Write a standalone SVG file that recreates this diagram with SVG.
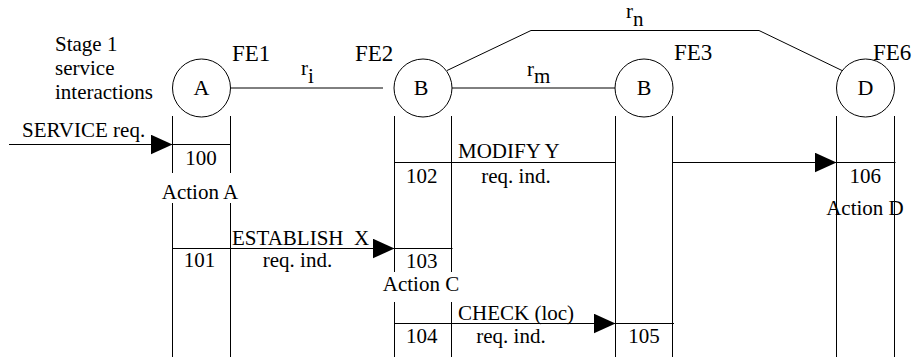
<svg xmlns="http://www.w3.org/2000/svg" width="918" height="360" viewBox="0 0 918 360">
<style>
  text { font-family: "Liberation Serif", "Times New Roman", serif; font-size: 21px; fill: #000; }
  .fe { font-size: 23px; }
  .nd { font-size: 22px; text-anchor: middle; }
  .c { text-anchor: middle; }
  line, polyline, circle { stroke: #000; stroke-width: 1; fill: none; }
</style>
<defs>
  <marker id="arr" markerUnits="userSpaceOnUse" markerWidth="22" markerHeight="20" refX="22" refY="10" orient="auto">
    <path d="M0,0 L22,10 L0,20 z" fill="#000"/>
  </marker>
</defs>
<rect width="918" height="360" fill="#fff"/>

<text x="55" y="51">Stage 1</text>
<text x="55" y="75">service</text>
<text x="55" y="99">interactions</text>

<g id="FE1">
  <circle cx="201.5" cy="88" r="29"/>
  <text class="nd" x="201.5" y="95">A</text>
  <text class="fe" x="232" y="61">FE1</text>
  <line x1="172.5" y1="116" x2="172.5" y2="173"/>
  <line x1="172.5" y1="203" x2="172.5" y2="357"/>
  <line x1="230.5" y1="116" x2="230.5" y2="173"/>
  <line x1="230.5" y1="203" x2="230.5" y2="357"/>
  <text class="c" x="201" y="165">100</text>
  <text class="c" x="200" y="199">Action A</text>
  <text class="c" x="199.5" y="267">101</text>
</g>

<g id="FE2">
  <circle cx="423" cy="88" r="29"/>
  <text class="nd" x="421" y="95">B</text>
  <text class="fe" x="355" y="61">FE2</text>
  <line x1="394.5" y1="116" x2="394.5" y2="272"/>
  <line x1="394.5" y1="302" x2="394.5" y2="357"/>
  <line x1="451.5" y1="116" x2="451.5" y2="272"/>
  <line x1="451.5" y1="302" x2="451.5" y2="357"/>
  <text class="c" x="421.7" y="183">102</text>
  <text class="c" x="421.7" y="268">103</text>
  <text class="c" x="421" y="291">Action C</text>
  <text class="c" x="421.7" y="343">104</text>
</g>

<g id="FE3">
  <circle cx="644" cy="88" r="29"/>
  <text class="nd" x="644" y="95">B</text>
  <text class="fe" x="674" y="60">FE3</text>
  <line x1="615.5" y1="116" x2="615.5" y2="357"/>
  <line x1="672.5" y1="116" x2="672.5" y2="357"/>
  <text class="c" x="644" y="343">105</text>
</g>

<g id="FE6">
  <circle cx="865.5" cy="88" r="29"/>
  <text class="nd" x="865.5" y="95">D</text>
  <text class="fe" x="873" y="60">FE6</text>
  <line x1="836.5" y1="116" x2="836.5" y2="357"/>
  <line x1="894.5" y1="116" x2="894.5" y2="357"/>
  <text class="c" x="865.3" y="183">106</text>
  <text class="c" x="865" y="215">Action D</text>
</g>

<g id="connectors">
  <line x1="231" y1="88" x2="383" y2="88"/>
  <line x1="452" y1="88" x2="615" y2="88"/>
  <polyline points="447,70.5 531,30.5 759,30.5 842,70.5"/>

  <line x1="9" y1="144.5" x2="172.5" y2="144.5" marker-end="url(#arr)"/>
  <line x1="172.5" y1="144.5" x2="230.5" y2="144.5"/>

  <line x1="172.5" y1="248.5" x2="394.5" y2="248.5" marker-end="url(#arr)"/>
  <line x1="394.5" y1="248.5" x2="452.5" y2="248.5"/>

  <line x1="394.5" y1="162.5" x2="615.5" y2="162.5"/>
  <line x1="672.5" y1="162.5" x2="836.5" y2="162.5" marker-end="url(#arr)"/>
  <line x1="836.5" y1="162.5" x2="895.5" y2="162.5"/>

  <line x1="394" y1="323.5" x2="615.5" y2="323.5" marker-end="url(#arr)"/>
  <line x1="615.5" y1="323.5" x2="674" y2="323.5"/>
</g>

<g id="labels">
  <text x="301" y="75">r<tspan dy="8">i</tspan></text>
  <text x="527" y="76">r<tspan dy="7">m</tspan></text>
  <text x="626" y="18">r<tspan dy="8">n</tspan></text>
  <text x="22" y="137">SERVICE req.</text>
  <text x="232" y="245" xml:space="preserve">ESTABLISH  X</text>
  <text class="c" x="297.5" y="267">req. ind.</text>
  <text x="458" y="158">MODIFY Y</text>
  <text class="c" x="516" y="183">req. ind.</text>
  <text x="458" y="320">CHECK (loc)</text>
  <text class="c" x="511" y="343">req. ind.</text>
</g>
</svg>
